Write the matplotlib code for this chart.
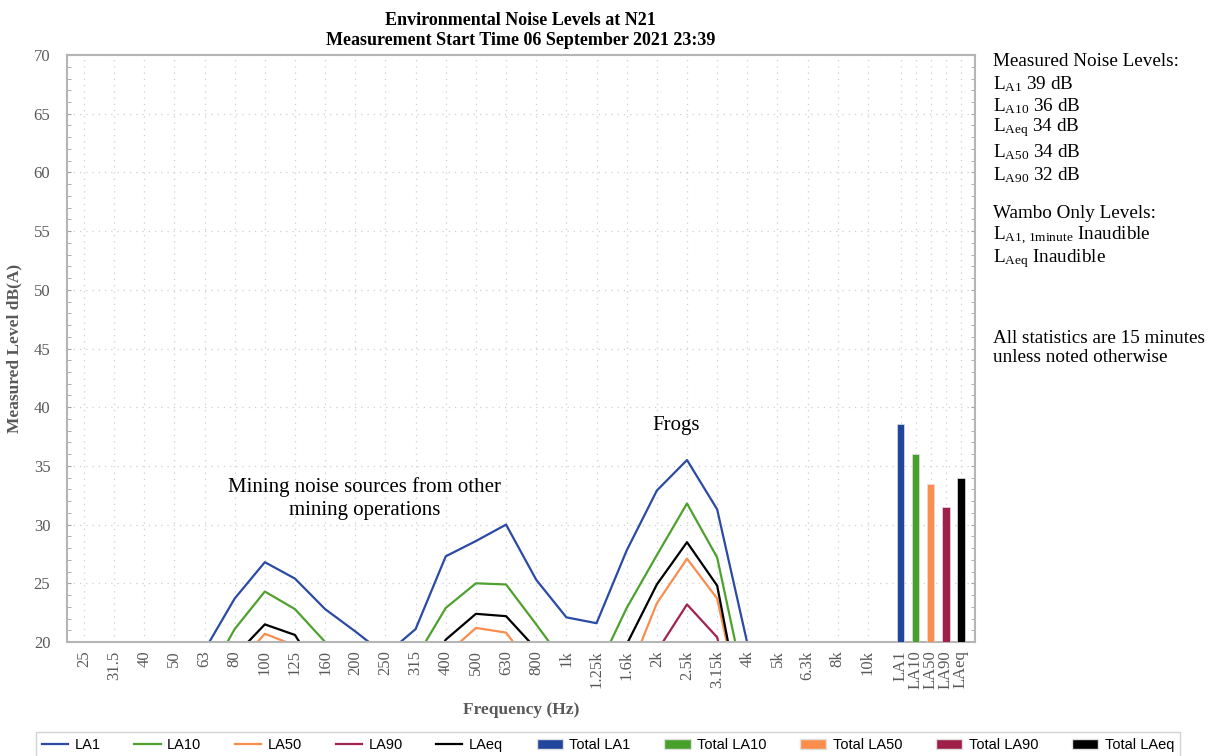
import numpy as np
import matplotlib.pyplot as plt
from matplotlib.lines import Line2D
from matplotlib.patches import Patch

plt.rcParams['font.family'] = ['Liberation Serif', 'DejaVu Serif']
plt.rcParams['mathtext.fontset'] = 'custom'
plt.rcParams['mathtext.rm'] = 'Liberation Serif'
plt.rcParams['mathtext.it'] = 'Liberation Serif:italic'
plt.rcParams['mathtext.bf'] = 'Liberation Serif:bold'

bands = ['25', '31.5', '40', '50', '63', '80', '100', '125', '160', '200', '250',
         '315', '400', '500', '630', '800', '1k', '1.25k', '1.6k', '2k', '2.5k',
         '3.15k', '4k', '5k', '6.3k', '8k', '10k']

la1 = [14, 13, 13, 14, 19.3, 23.7, 26.8, 25.4, 22.8, 20.9, 18.9, 21.1, 27.3, 28.6,
       30.0, 25.3, 22.1, 21.6, 27.8, 32.9, 35.5, 31.3, 19.9, 16, 14, 12, 10]
la10 = [11, 10, 10, 11, 16.5, 21.1, 24.3, 22.8, 20.0, 17.5, 16, 18.6, 22.9, 25.0,
        24.9, 21.5, 18, 17.5, 22.9, 27.4, 31.8, 27.2, 15.2, 12, 10, 8, 6]
la50 = [8, 7, 7, 8, 13, 17.8, 20.7, 19.7, 15, 13, 12, 14, 18.9, 21.2,
        20.8, 17.4, 14, 13, 16.9, 23.3, 27.1, 23.7, 12, 9, 7, 5, 4]
la90 = [6, 5, 5, 6, 10, 14, 16.5, 15.5, 12, 10, 9, 11, 15, 17,
        16.8, 14, 11, 10, 14, 19.2, 23.2, 20.4, 10, 7, 5, 3, 2]
laeq = [10, 9, 9, 10, 14, 18.8, 21.5, 20.6, 16.5, 14.5, 13.5, 15.5, 20.2, 22.4,
        22.2, 19.4, 16, 15.5, 19.8, 24.9, 28.5, 24.8, 11.5, 10, 8, 6, 5]

total_labels = ['LA1', 'LA10', 'LA50', 'LA90', 'LAeq']
total_values = [38.6, 36.0, 33.5, 31.5, 34.0]

line_colors = ['#2b4aa3', '#4ea12f', '#f98d4f', '#a0244c', '#000000']
bar_colors = ['#21459b', '#46a02a', '#fb8e4c', '#9e1f47', '#000000']
grey = '#595959'

fig = plt.figure(figsize=(12.16, 7.56), dpi=100)
ax = fig.add_axes([0.0551, 0.1508, 0.7467, 0.7764])

x = np.arange(len(bands))
series = [('LA1', la1), ('LA10', la10), ('LA50', la50), ('LA90', la90), ('LAeq', laeq)]
for (name, vals), c in zip(series, line_colors):
    ax.plot(x, vals, color=c, lw=1.6, label=name)

xb = len(bands) + 0.08 + 0.5 * np.arange(len(total_values))
ax.bar(xb, total_values, width=0.25, color=bar_colors, edgecolor='#e0e0e0', lw=0.5,
       zorder=3)

ax.set_xlim(-0.56, 29.55)
ax.set_ylim(20, 70)
ax.set_yticks(np.arange(20, 71, 5))
ax.set_yticks(np.arange(20, 71, 1), minor=True)
ax.set_xticks(list(x) + list(xb))
ax.set_xticklabels(bands + total_labels, rotation=90, va='top')
ax.tick_params(axis='x', length=0, pad=6, labelsize=12, labelcolor=grey)
ax.tick_params(axis='y', which='both', direction='in', length=3, color='#a0a0a0',
               labelsize=12, labelcolor=grey, right=True, pad=12)

ax.grid(True, axis='both', which='major', color='#cfcfcf', lw=0.9, ls=(0, (1, 4)))
ax.set_axisbelow(True)
for s in ax.spines.values():
    s.set_color('#b5b5b5')
    s.set_linewidth(1.5)

ax.set_ylabel('Measured Level dB(A)', fontsize=12.5, fontweight='bold', color=grey, labelpad=8)
ax.set_xlabel('Frequency (Hz)', fontsize=12.5, fontweight='bold', color=grey, labelpad=9)

fig.text(0.428, 0.984, 'Environmental Noise Levels at N21\nMeasurement Start Time 06 September 2021 23:39',
         ha='center', va='top', fontsize=13, fontweight='bold', linespacing=1.2)

ax.text(9.32, 32.2, 'Mining noise sources from other\nmining operations', ha='center',
        va='center', fontsize=15, linespacing=1.25)
ax.text(19.63, 38.4, 'Frogs', ha='center', va='center', fontsize=15)

side_text = ['Measured Noise Levels:',
             r'L$_{\mathrm{A1}}$ 39 dB',
             r'L$_{\mathrm{A10}}$ 36 dB',
             r'L$_{\mathrm{Aeq}}$ 34 dB',
             r'L$_{\mathrm{A50}}$ 34 dB',
             r'L$_{\mathrm{A90}}$ 32 dB',
             'Wambo Only Levels:',
             r'L$_{\mathrm{A1,\,1minute}}$ Inaudible',
             r'L$_{\mathrm{Aeq}}$ Inaudible',
             'All statistics are 15 minutes',
             'unless noted otherwise']
side_y = [62, 84, 106, 128, 152, 175, 214, 236, 259, 339, 358]
for t, yy in zip(side_text, side_y):
    fig.text(0.8165, 1 - yy / 756, t, ha='left', va='center', fontsize=13.8)

handles = [Line2D([], [], color=c, lw=1.6) for c in line_colors]
handles += [Patch(facecolor=c, edgecolor='#e0e0e0') for c in bar_colors]
labels = ['LA1', 'LA10', 'LA50', 'LA90', 'LAeq'] + ['Total ' + t for t in total_labels]
leg = fig.legend(handles, labels, loc='lower center', bbox_to_anchor=(0.5, -0.012),
                 ncol=10, frameon=True, fancybox=False, edgecolor='#c8c8c8',
                 handlelength=1.8, columnspacing=2.3, handletextpad=0.45,
                 prop={'family': ['Liberation Sans Narrow', 'Liberation Sans'], 'size': 10.5})
leg.get_frame().set_linewidth(1.0)

fig.savefig('out.png', dpi=100)
